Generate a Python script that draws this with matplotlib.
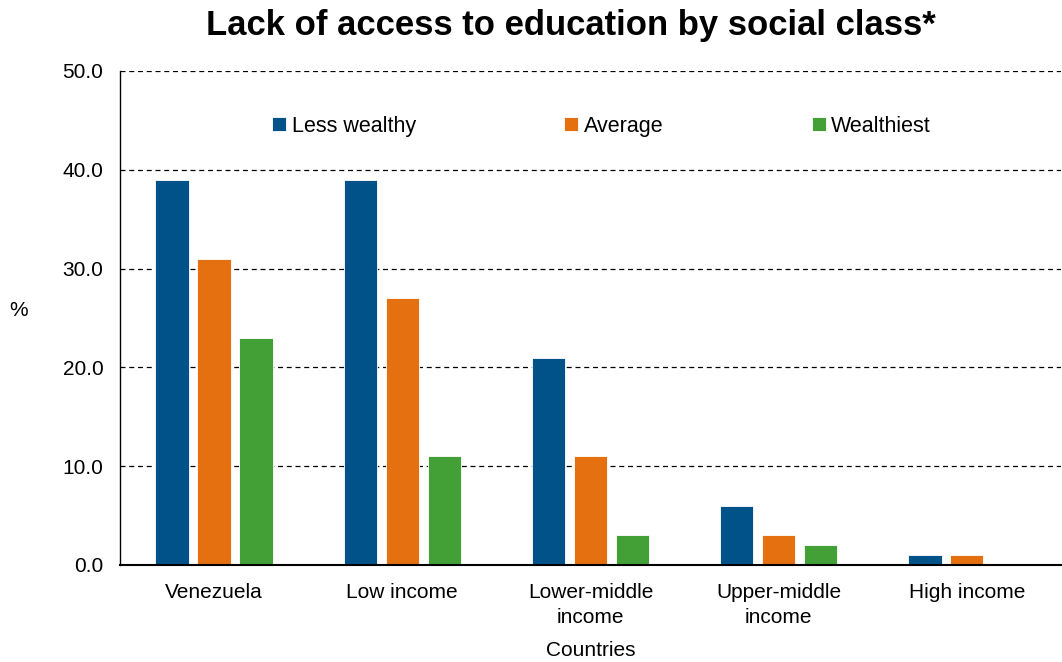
import matplotlib.pyplot as plt
import numpy as np

plt.rcParams['font.family'] = ['Liberation Sans', 'DejaVu Sans']

categories = ["Venezuela", "Low income", "Lower-middle\nincome", "Upper-middle\nincome", "High income"]
series_names = ["Less wealthy", "Average", "Wealthiest"]
less_wealthy = [39, 39, 21, 6, 1]
average = [31, 27, 11, 3, 1]
wealthiest = [23, 11, 3, 2, 0]
colors = ['#005288', '#E5700F', '#42A036']
y_ticks = [0, 10, 20, 30, 40, 50]

fig = plt.figure(figsize=(10.62, 6.62), dpi=100)
ax = fig.add_axes([120/1062, 1-565/662, 1-120/1062 - 0.001, (565-71)/662])

x = np.arange(len(categories))
w = 0.177
step = 0.223
for i, (vals, name) in enumerate(zip([less_wealthy, average, wealthiest], series_names)):
    ax.bar(x + (i-1)*step, vals, width=w, color=colors[i], label=name,
           edgecolor='white', linewidth=0.6, zorder=3)

ax.set_xlim(-0.5, len(categories)-0.5)
ax.set_ylim(0, 50)
ax.set_yticks(y_ticks)
ax.set_yticklabels([f"{v:.1f}" for v in y_ticks])
ax.set_xticks(x)
ax.set_xticklabels(categories, linespacing=1.42)
ax.tick_params(axis='both', length=0, labelsize=15)
ax.tick_params(axis='y', pad=12)
ax.tick_params(axis='x', pad=13)
ax.yaxis.grid(True, linestyle=(0, (4, 3)), color='black', linewidth=0.9, zorder=0)
ax.spines['top'].set_visible(False)
ax.spines['right'].set_visible(False)
ax.spines['left'].set_linewidth(1.0)
ax.spines['bottom'].set_linewidth(1.5)
ax.spines['bottom'].set_zorder(4)

ax.set_xlabel("Countries", fontsize=15, labelpad=10)
ax.set_ylabel("%", fontsize=15, rotation=0, va='center', ha='center')
ax.yaxis.set_label_coords(-0.108, 0.516)

fig.suptitle("Lack of access to education by social class*", fontsize=24.9,
             fontweight='bold', x=571/1062, y=1-26/662, va='center')

leg = ax.legend(loc='upper center', bbox_to_anchor=(0.512, 0.949), ncol=3, frameon=False,
                fontsize=15.5, handlelength=0.65, handleheight=0.65, handletextpad=0.25,
                columnspacing=6.9)

fig.savefig("out.png", dpi=100)
